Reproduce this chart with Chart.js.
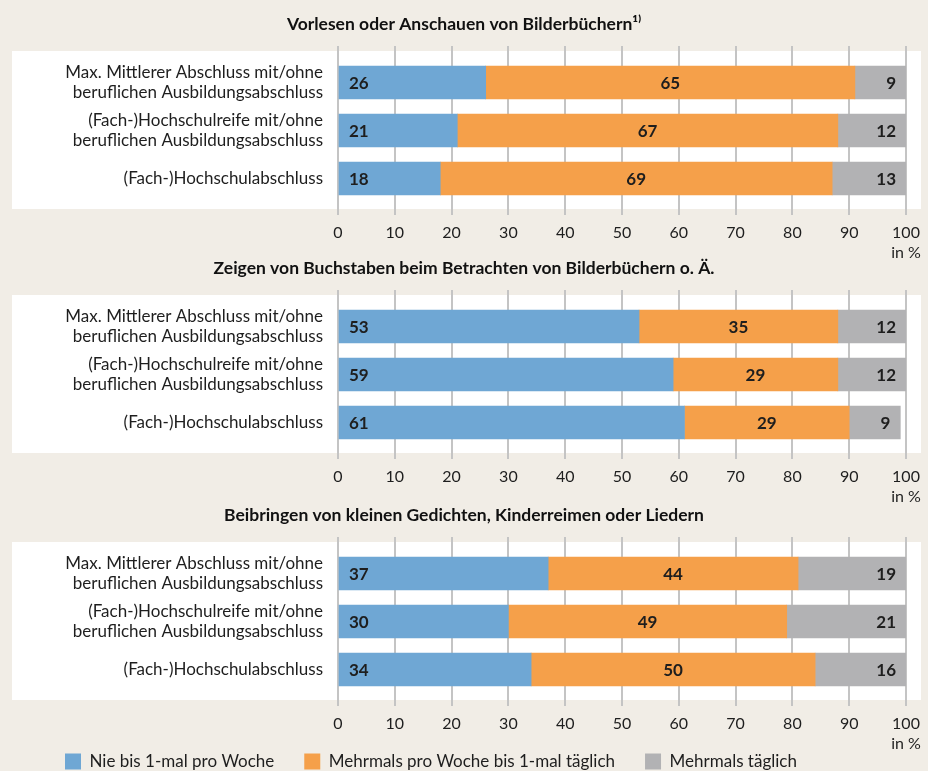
<!DOCTYPE html>
<html lang="de">
<head>
<meta charset="utf-8">
<title>Häusliche Lernaktivitäten nach Bildungsabschluss</title>
<script src="https://cdn.jsdelivr.net/npm/chart.js@4.4.1/dist/chart.umd.min.js"></script>
<style>
    html, body { margin: 0; padding: 0; background: #f1ede6; overflow: hidden; }
    body { position: relative; width: 928px; height: 771px; }
    .panel { position: absolute; left: 0; width: 928px; }
    canvas { display: block; }
</style>
</head>
<body>
<div class="panel" style="top:0;height:265px"><canvas id="chart-vorlesen"></canvas></div>
<div class="panel" style="top:244px;height:265px"><canvas id="chart-buchstaben"></canvas></div>
<div class="panel" style="top:491px;height:265px"><canvas id="chart-reime"></canvas></div>
<div class="panel" style="top:723px;height:120px"><canvas id="chart-legende"></canvas></div>

<script>
/* ------------------------------------------------------------------ */
/*  Data                                                               */
/* ------------------------------------------------------------------ */

const groups = [
    ['Max. Mittlerer Abschluss mit/ohne', 'beruflichen Ausbildungsabschluss'],
    ['(Fach-)Hochschulreife mit/ohne', 'beruflichen Ausbildungsabschluss'],
    ['(Fach-)Hochschulabschluss']
];

const seriesNames = [
    'Nie bis 1-mal pro Woche',
    'Mehrmals pro Woche bis 1-mal täglich',
    'Mehrmals täglich'
];

const xTicks = [0, 10, 20, 30, 40, 50, 60, 70, 80, 90, 100];
const axisUnit = 'in %';

const vorlesenTitle = 'Vorlesen oder Anschauen von Bilderbüchern¹⁾';
const vorlesenSelten = [26, 21, 18];
const vorlesenWoche = [65, 67, 69];
const vorlesenTaeglich = [9, 12, 13];

const buchstabenTitle = 'Zeigen von Buchstaben beim Betrachten von Bilderbüchern o. Ä.';
const buchstabenSelten = [53, 59, 61];
const buchstabenWoche = [35, 29, 29];
const buchstabenTaeglich = [12, 12, 9];

const reimeTitle = 'Beibringen von kleinen Gedichten, Kinderreimen oder Liedern';
const reimeSelten = [37, 30, 34];
const reimeWoche = [44, 49, 50];
const reimeTaeglich = [19, 21, 16];

/* ------------------------------------------------------------------ */
/*  Styling                                                            */
/* ------------------------------------------------------------------ */

const seriesColors = ['#6fa7d4', '#f5a04a', '#b2b2b4'];
const textColor = '#1e1e1e';
const fontFamily = "Lato, 'Noto Sans', sans-serif";

Chart.defaults.font.family = fontFamily;
Chart.defaults.color = textColor;

/* White plate behind the bars, slightly inset from the grid lines. */
const panelBox = {
    id: 'panelBox',
    beforeDraw(chart) {
        const { ctx, chartArea } = chart;
        ctx.save();
        ctx.fillStyle = '#ffffff';
        ctx.fillRect(12, chartArea.top + 5, 909, chartArea.bottom - chartArea.top - 11);
        ctx.restore();
    }
};

/* Value labels: first segment left, middle centred, last right-aligned. */
const barValues = {
    id: 'barValues',
    afterDatasetsDraw(chart) {
        const { ctx } = chart;
        ctx.save();
        ctx.font = `bold 17px ${fontFamily}`;
        ctx.fillStyle = textColor;
        ctx.textBaseline = 'middle';
        chart.data.datasets.forEach((ds, di) => {
            chart.getDatasetMeta(di).data.forEach((bar, i) => {
                const { x, y, base } = bar.getProps(['x', 'y', 'base'], true);
                let tx;
                if (di === 0) {
                    ctx.textAlign = 'left';
                    tx = base + 10;
                } else if (di === 1) {
                    ctx.textAlign = 'center';
                    tx = (base + x) / 2;
                } else {
                    ctx.textAlign = 'right';
                    tx = x - 10;
                }
                ctx.fillText(String(ds.data[i].x), tx, y + 1);
            });
        });
        ctx.restore();
    }
};

/* ------------------------------------------------------------------ */
/*  Charts                                                             */
/* ------------------------------------------------------------------ */

function drawPanel(canvasId, title, series) {
    return new Chart(document.getElementById(canvasId), {
        type: 'bar',
        data: {
            datasets: seriesNames.map((name, s) => ({
                label: name,
                data: series[s].map((v, i) => ({ x: v, y: i })),
                backgroundColor: seriesColors[s],
                borderWidth: 0,
                barThickness: 33
            }))
        },
        options: {
            indexAxis: 'y',
            responsive: true,
            maintainAspectRatio: false,
            animation: false,
            layout: { padding: { left: 22, right: 22, top: 0, bottom: 0 } },
            scales: {
                x: {
                    type: 'linear',
                    stacked: true,
                    min: 0,
                    max: 100,
                    afterBuildTicks: s => { s.ticks = xTicks.map(v => ({ value: v })); },
                    afterFit: s => { s.height = 50; },
                    grid: { color: '#c4c4c4', lineWidth: 2, drawTicks: false },
                    border: { display: false },
                    ticks: {
                        padding: 7,
                        color: textColor,
                        font: { size: 16, lineHeight: 1.3 },
                        callback: v => v === 100 ? [String(v), axisUnit] : String(v)
                    }
                },
                y: {
                    type: 'linear',
                    stacked: true,
                    offset: false,
                    reverse: true,
                    min: -0.76,
                    max: 2.76,
                    afterBuildTicks: s => { s.ticks = groups.map((_, i) => ({ value: i })); },
                    afterFit: s => { s.width = 316; },
                    grid: { display: false, drawTicks: false },
                    border: { display: false },
                    ticks: {
                        padding: 15,
                        color: textColor,
                        font: { size: 17, lineHeight: 1.2 },
                        callback: v => groups[v]
                    }
                }
            },
            plugins: {
                legend: { display: false },
                tooltip: { enabled: false },
                title: {
                    display: true,
                    text: title,
                    color: '#111',
                    font: { size: 17.5, weight: 'bold', lineHeight: 1.2 },
                    padding: { top: 13.5, bottom: 11.5 }
                }
            }
        },
        plugins: [panelBox, barValues]
    });
}

drawPanel('chart-vorlesen', vorlesenTitle, [vorlesenSelten, vorlesenWoche, vorlesenTaeglich]);
drawPanel('chart-buchstaben', buchstabenTitle, [buchstabenSelten, buchstabenWoche, buchstabenTaeglich]);
drawPanel('chart-reime', reimeTitle, [reimeSelten, reimeWoche, reimeTaeglich]);

/* Shared legend below the last panel */
new Chart(document.getElementById('chart-legende'), {
    type: 'bar',
    data: {
        labels: [],
        datasets: seriesNames.map((name, s) => ({
            label: name,
            data: [],
            backgroundColor: seriesColors[s],
            borderColor: seriesColors[s],
            borderWidth: 0
        }))
    },
    options: {
        responsive: true,
        maintainAspectRatio: false,
        animation: false,
        layout: { padding: { left: 35 } },
        scales: { x: { display: false }, y: { display: false } },
        plugins: {
            tooltip: { enabled: false },
            legend: {
                position: 'top',
                align: 'start',
                labels: {
                    boxWidth: 16,
                    boxHeight: 16,
                    padding: 30,
                    color: textColor,
                    font: { size: 17 }
                }
            }
        }
    }
});
</script>
</body>
</html>
